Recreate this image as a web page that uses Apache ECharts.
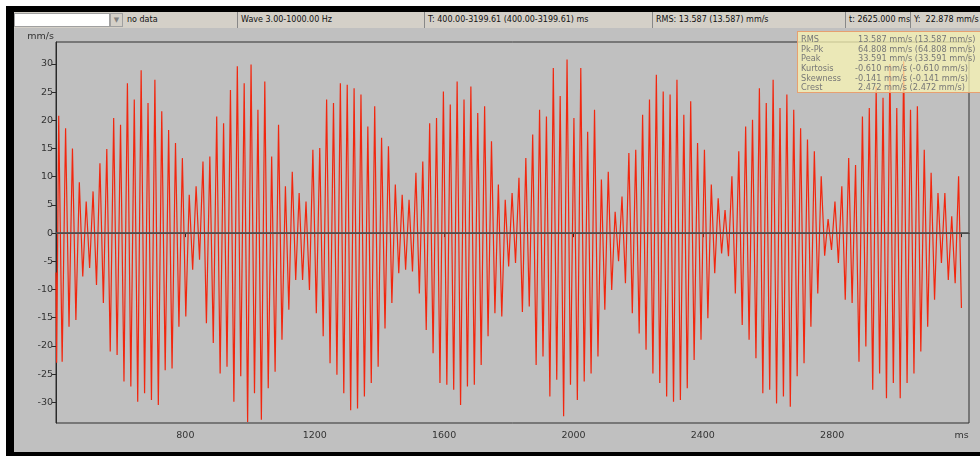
<!DOCTYPE html>
<html lang="en">
<head>
<meta charset="UTF-8">
<title>Wave</title>
<script src="https://cdn.jsdelivr.net/npm/echarts@6.0.0/dist/echarts.min.js"></script>
<style>
    html, body { margin: 0; padding: 0; background: #fff; }
    body { width: 980px; height: 456px; position: relative; overflow: hidden; font-family: "DejaVu Sans", Verdana, sans-serif; }
    #frame { position: absolute; left: 6px; top: 6px; width: 974px; height: 450px; background: #000; }
    #panel { position: absolute; left: 14px; top: 28px; width: 966px; height: 424px; background: #c0c0c0; }
    #toolbar { position: absolute; left: 14px; top: 12px; width: 966px; height: 16px; background: #d4d0c8; }
    #combo { position: absolute; left: 0; top: 1px; width: 96px; height: 14px; background: #fff; box-sizing: border-box; border: 1px solid #a0a0a0; }
    #drop { position: absolute; left: 96px; top: 1px; width: 13px; height: 14px; background: #d4d0c8; box-sizing: border-box; border: 1px solid #a0a0a0; color: #808080; font-size: 7px; line-height: 12px; text-align: center; }
    .cell { position: absolute; top: 0; height: 16px; line-height: 16px; font-size: 8px; color: #111; white-space: nowrap; overflow: hidden; padding-left: 3px; box-sizing: border-box; border-left: 1px solid #888; }
    #chart { position: absolute; left: 0; top: 0; width: 980px; height: 456px; }
    #stats { position: absolute; left: 797px; top: 31px; width: 200px; height: 62px; box-sizing: border-box; border: 1px solid #e7a070; background: rgba(250, 246, 180, 0.74); padding-top: 3px; font-size: 8.2px; color: #777; }
    #stats div { height: 9.65px; line-height: 9.65px; white-space: nowrap; position: relative; }
    #stats span { position: absolute; }
</style>
</head>
<body>
<div id="frame"></div>
<div id="panel"></div>
<div id="toolbar">
    <div id="combo"></div>
    <div id="drop">&#9660;</div>
    <div class="cell" style="left:110px;width:123px;border-left:none;">no data</div>
    <div class="cell" style="left:223px;width:187px;">Wave 3.00-1000.00 Hz</div>
    <div class="cell" style="left:410px;width:228px;">T: 400.00-3199.61 (400.00-3199.61) ms</div>
    <div class="cell" style="left:638px;width:193px;">RMS: 13.587 (13.587) mm/s</div>
    <div class="cell" style="left:831px;width:65px;">t: 2625.000 ms</div>
    <div class="cell" style="left:896px;width:70px;">Y:&nbsp; 22.878 mm/s</div>
</div>
<div id="chart"></div>
<div id="stats"></div>

<script>
    // x ticks (ms) and y ticks (mm/s)
    var xTicks = [800, 1200, 1600, 2000, 2400, 2800, 3200];
    var yTicks = [-30, -25, -20, -15, -10, -5, 0, 5, 10, 15, 20, 25, 30];

    // start of the record (ms, mm/s)
    var startTimes = [400, 402];
    var startVals = [-7, -23];

    // time of the first positive peak and mean cycle length, ms
    var t0 = 408.4;
    var period = 21.24;
    var tEnd = 3199.61;

    // positive peak of each cycle, mm/s
    var peaks = [
        20.8, 18.6, 15, 9, 5.6, 7.4, 12.4, 14.9, 20.4, 19.2,
        26.6, 23.7, 28.9, 23.1, 27.2, 21.6, 18.3, 16, 13.3, 6.8,
        8.3, 12.7, 13.6, 20.7, 19.5, 25.4, 29.6, 26.6, 29.9, 21.9,
        26.9, 13.6, 19.2, 8.3, 10.9, 7.1, 5.6, 14.8, 15.1, 23.7,
        23.1, 26.6, 26.3, 25.7, 24.6, 18.9, 22.5, 16.9, 15.4, 8.6,
        6.8, 5.9, 10.7, 12.7, 19.5, 20.4, 25.1, 22.8, 26.9, 23.7,
        26, 21.3, 22.5, 16.3, 8.6, 5.9, 7.1, 9.8, 13.3, 17.5,
        21.9, 20.7, 29.3, 24.3, 30.8, 20.4, 29.3, 18, 21.9, 9.5,
        10.9, 3.8, 6.5, 14.2, 14.8, 21, 23.7, 28.1, 25.1, 24.6,
        27.2, 21, 23.4, 16, 14.8, 8.6, 6.2, 4.1, 10.1, 14.5,
        18.9, 20.1, 25.7, 23.1, 27.2, 22.2, 24.6, 21.9, 18.6, 16.6,
        14.5, 10.1, 2.5, 5.6, 8.3, 13.3, 12.1, 20.7, 22.2, 26,
        24, 30, 22.2, 30.5, 21.9, 22.5, 14.8, 10.7, 7.1, 7.1,
        3, 10.1
    ];

    // negative peak following each positive one, mm/s
    var troughs = [
        -22.8, -16.6, -15.4, -7.7, -6.2, -9.2, -12.4, -21, -21.6, -26.3,
        -27.2, -29.9, -28.4, -29.6, -30.5, -24.3, -24, -16.6, -14.8, -6.5,
        -4.7, -16, -19.5, -24.9, -23.7, -29.9, -25.4, -33.5, -28.4, -33.1,
        -27.5, -24.6, -18.9, -13.6, -8.3, -8.3, -10.1, -14.2, -18.3, -23.1,
        -25.1, -28.4, -31.4, -31.1, -29, -26.6, -23.7, -16.9, -12.4, -7.1,
        -6.5, -6.8, -10.7, -17.2, -21.3, -26.6, -26.9, -27.8, -30.5, -27.2,
        -26.9, -23.4, -18.3, -14.2, -14.8, -5.9, -5.3, -14, -13, -23.4,
        -21.9, -29, -26, -32.5, -26.9, -29.6, -26.3, -24.9, -21.9, -13.6,
        -10.1, -5, -8.9, -14.2, -17.8, -20.7, -24.9, -26.6, -29, -29.9,
        -29.6, -27.5, -22.5, -18.9, -15.1, -7.1, -3.6, -4.1, -10.7, -16.3,
        -18.9, -22.2, -28.4, -27.8, -30.2, -29, -30.8, -25.4, -23.1, -16.6,
        -10.7, -4, -3, -5.3, -11.8, -12.4, -22.8, -20.1, -27.8, -24.9,
        -29.3, -26.6, -29.3, -26.6, -24.9, -21, -16.6, -11.8, -5.3, -8.3,
        -8.9, -13.3
    ];

    // statistics panel
    var statNames = ['RMS', 'Pk-Pk', 'Peak', 'Kurtosis', 'Skewness', 'Crest'];
    var statValues = ['13.587 mm/s (13.587 mm/s)', '64.808 mm/s (64.808 mm/s)', '33.591 mm/s (33.591 mm/s)',
        '-0.610 mm/s (-0.610 mm/s)', '-0.141 mm/s (-0.141 mm/s)', '2.472 mm/s (2.472 mm/s)'];

    var html = '';
    for (var s = 0; s < statNames.length; s++) {
        var vx = statValues[s].charAt(0) === '-' ? 57 : 60;
        html += '<div><span style="left:3px">' + statNames[s] + '</span><span style="left:' + vx + 'px">' + statValues[s] + '</span></div>';
    }
    document.getElementById('stats').innerHTML = html;

    var wave = [];
    for (var j = 0; j < startTimes.length; j++) {
        wave.push([startTimes[j], startVals[j]]);
    }
    for (var i = 0; i < peaks.length; i++) {
        var t = t0 + i * period;
        wave.push([t, peaks[i]]);
        wave.push([Math.min(t + period / 2, tEnd), troughs[i]]);
    }

    var myChart = echarts.init(document.getElementById('chart'));

    var option = {
        animation: false,
        backgroundColor: 'transparent',
        grid: {
            left: 56,
            right: 11,
            top: 42,
            bottom: 33,
            show: true,
            borderColor: '#2e2e2e',
            borderWidth: 1,
            backgroundColor: 'transparent'
        },
        xAxis: {
            type: 'value',
            min: 400,
            max: 3223,
            offset: 3,
            axisLine: { show: true, lineStyle: { color: '#2a2a2a', width: 1 } },
            axisTick: { show: true, length: 4, customValues: xTicks, lineStyle: { color: '#2a2a2a' } },
            axisLabel: {
                customValues: xTicks,
                margin: 5,
                color: '#333',
                fontSize: 9.5,
                fontFamily: 'DejaVu Sans',
                formatter: function (v) { return v === 3200 ? 'ms' : String(v); }
            },
            splitLine: { show: false }
        },
        yAxis: {
            type: 'value',
            min: -33.68,
            max: 33.9,
            name: 'mm/s',
            nameLocation: 'end',
            nameGap: 0,
            nameTextStyle: { color: '#333', fontSize: 9.5, fontFamily: 'DejaVu Sans', align: 'right', verticalAlign: 'bottom', padding: [0, 2, 0, 0] },
            axisLine: { show: true, lineStyle: { color: '#2a2a2a', width: 1 } },
            axisTick: { show: true, length: 4, customValues: yTicks, lineStyle: { color: '#2a2a2a' } },
            axisLabel: { customValues: yTicks, margin: 3, color: '#333', fontSize: 9.5, fontFamily: 'DejaVu Sans' },
            splitLine: { show: false }
        },
        series: [
            {
                type: 'line',
                data: wave,
                symbol: 'none',
                sampling: null,
                lineStyle: { color: '#f2260e', width: 1.2 },
                markLine: {
                    silent: true,
                    symbol: ['none', 'none'],
                    label: { show: false },
                    lineStyle: { color: '#505050', width: 2, type: 'solid', opacity: 0.85 },
                    data: [{ yAxis: 0 }]
                }
            }
        ]
    };

    myChart.setOption(option);
</script>
</body>
</html>
